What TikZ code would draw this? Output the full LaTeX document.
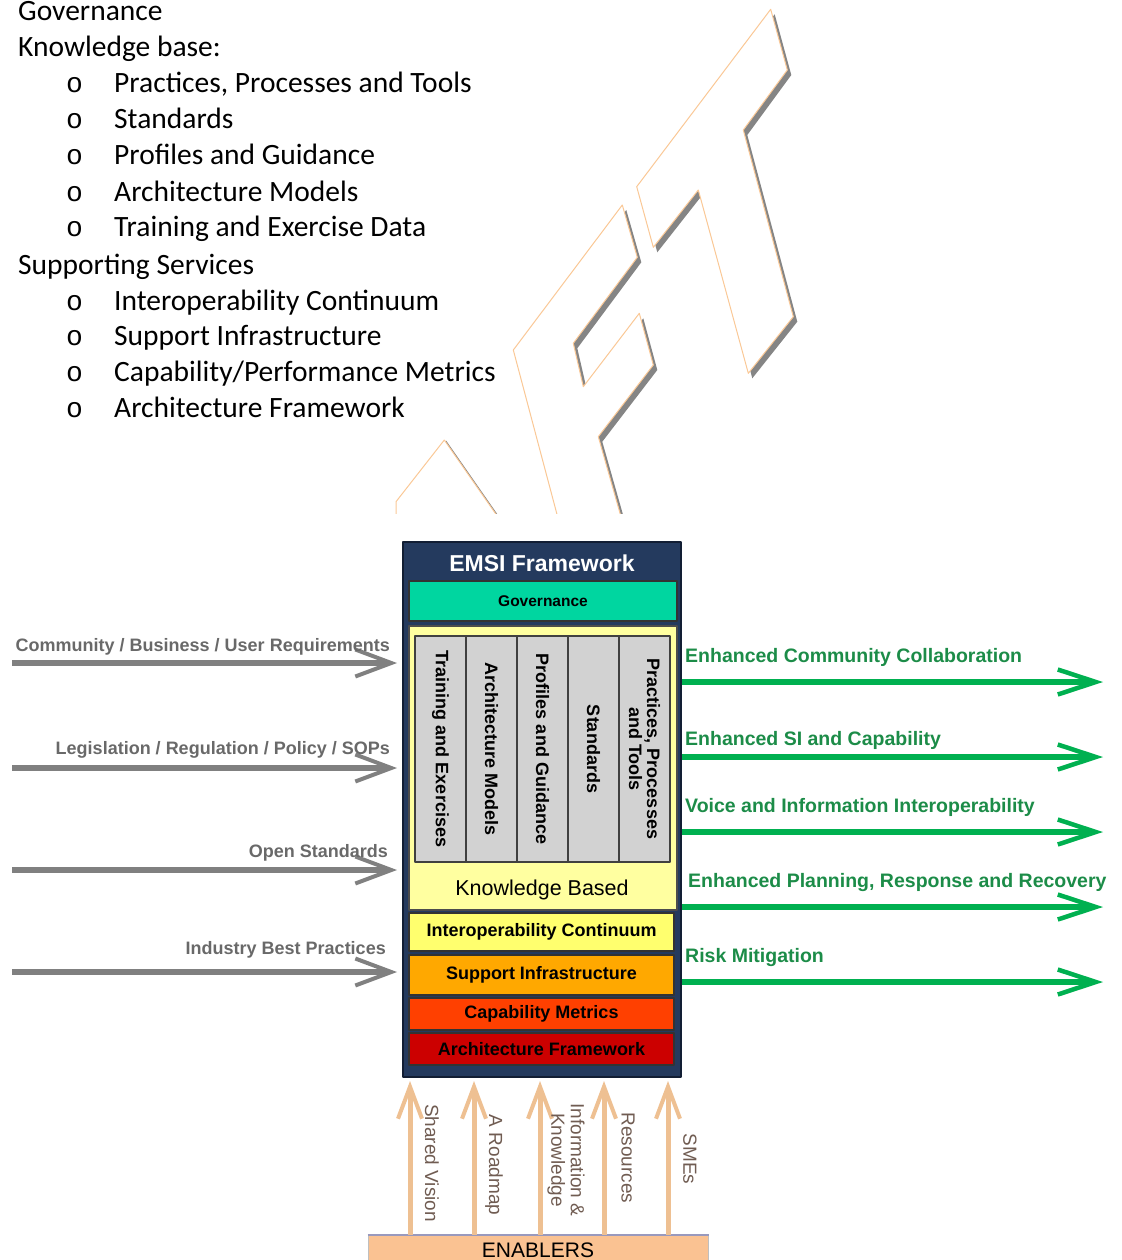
\documentclass[tikz,border=0pt]{standalone}
\usepackage{fontspec}
\setmainfont{Carlito}
\newfontfamily\arialfont{Liberation Sans}
\newfontfamily\bulletfont{Liberation Mono}
\usetikzlibrary{arrows.meta,positioning}

\definecolor{navy}{RGB}{36,58,94}
\definecolor{navyline}{RGB}{18,30,52}
\definecolor{govgreen}{RGB}{0,214,160}
\definecolor{kbyellow}{RGB}{255,255,160}
\definecolor{ioyellow}{RGB}{255,255,110}
\definecolor{colgray}{RGB}{210,210,210}
\definecolor{siorange}{RGB}{255,168,0}
\definecolor{cmred}{RGB}{255,64,0}
\definecolor{afred}{RGB}{204,0,0}
\definecolor{outgreen}{RGB}{0,176,80}
\definecolor{outtext}{RGB}{28,140,72}
\definecolor{ingray}{RGB}{128,128,128}
\definecolor{intext}{RGB}{105,105,105}
\definecolor{enabtan}{RGB}{238,192,146}
\definecolor{entext}{RGB}{112,92,82}
\definecolor{peach}{RGB}{250,194,146}
\definecolor{wmorange}{RGB}{250,200,150}

\tikzset{
  listtext/.style={anchor=base west, inner sep=0pt, font=\fontsize{29.5}{35}\selectfont},
  bullet/.style={anchor=base west, inner sep=0pt, font=\bulletfont\fontsize{28}{33}\selectfont},
  layer/.style={draw=black!80, line width=1.2pt, minimum width=265pt, inner sep=0pt,
    font=\arialfont\bfseries\fontsize{18}{20}\selectfont},
  column/.style={draw=black!75, line width=1.5pt, fill=colgray, minimum width=51pt,
    minimum height=226pt, inner sep=0pt},
  coltext/.style={rotate=-90, align=center, inner sep=0pt,
    font=\arialfont\bfseries\fontsize{18}{18}\selectfont},
  inarrow/.style={draw=ingray, line width=6pt,
    -{Straight Barb[length=36pt,width=27pt,line width=4pt]}},
  intext/.style={anchor=base east, inner sep=0pt, text=intext,
    font=\arialfont\bfseries\fontsize{18}{19}\selectfont},
  outarrow/.style={draw=outgreen, line width=6pt,
    -{Straight Barb[length=38pt,width=25pt,line width=4.5pt]}},
  outtext/.style={anchor=base west, inner sep=0pt, text=outtext,
    font=\arialfont\bfseries\fontsize{19.5}{20}\selectfont},
  enarrow/.style={draw=enabtan, line width=5pt,
    -{Straight Barb[length=32pt,width=24pt,line width=4pt]}},
  entext/.style={rotate=-90, align=center, inner sep=0pt, text=entext,
    font=\arialfont\fontsize{19}{19.5}\selectfont}
}

\newcommand\wmT{(770.7,9.3) -- (787.3,70) -- (743.3,130) -- (793.3,316.7) -- (748.3,373.3)
  -- (698.3,190) -- (653.3,247.3) -- (636.7,186.7) -- cycle}
\newcommand\wmF{(622.3,205) -- (637.3,257.3) -- (573.3,343.3) -- (583.3,386.7) -- (639.3,313.3)
  -- (653.3,365) -- (598.3,436.7) -- (627.6,540) -- (563.8,540) -- (513.3,350) -- cycle}

\begin{document}
\begin{tikzpicture}[x=1pt,y=-1pt,line join=round]
  \useasboundingbox (0,0) rectangle (1121,1260);
  \clip (0,0) rectangle (1121,1260);

  % list above the figure
  \node[listtext] (gov0) at (18,21) {Governance};
  \node[listtext] (kb0) at (18,57) {Knowledge base:};
  \node[listtext] at (114,93) {Practices, Processes and Tools};
  \node[listtext] at (114,129) {Standards};
  \node[listtext] at (114,165) {Profiles and Guidance};
  \node[listtext] at (114,201) {Architecture Models};
  \node[listtext] at (114,236) {Training and Exercise Data};
  \node[listtext] (ss0) at (18,274) {Supporting Services};
  \node[listtext] at (114,310) {Interoperability Continuum};
  \node[listtext] at (114,345) {Support Infrastructure};
  \node[listtext] at (114,381) {Capability/Performance Metrics};
  \node[listtext] at (114,417) {Architecture Framework};
  \foreach \y in {93,129,165,201,236,310,345,381,417} {
    \node[bullet] at (66,\y) {o};
  }

  % watermark
  \begin{scope}
    \clip (380,0) rectangle (830,513);
    \fill[black!48, shift={(4,5)}] \wmT;
    \filldraw[fill=white, draw=wmorange, line width=1pt] \wmT;
    \fill[black!48, shift={(4,5)}] \wmF;
    \filldraw[fill=white, draw=wmorange, line width=1pt] \wmF;
    \draw[black!48, line width=1pt, shift={(1.5,1)}] (444.3,440) -- (500,520);
    \draw[wmorange, line width=1pt] (396,520) -- (396,501.7) -- (444.3,440) -- (500,520);
  \end{scope}

  % framework
  \node[draw=navyline, fill=navy, line width=2pt, minimum width=278pt, minimum height=535pt]
    (frame) at (542,809.5) {};
  \node[text=white, font=\arialfont\bfseries\fontsize{23}{25}\selectfont] (title) at (542,563)
    {EMSI Framework};
  \node[layer, fill=govgreen, minimum width=268pt, minimum height=40pt,
    font=\arialfont\bfseries\fontsize{15.5}{16}\selectfont] (gov) at (543,601) {Governance};
  \node[draw=black!70, line width=1.2pt, fill=kbyellow, minimum width=268pt, minimum height=284pt]
    (know) at (543,768) {};
  \foreach \lbl [count=\i] in {Training and Exercises, Architecture Models,
      Profiles and Guidance, Standards, {Practices, Processes\\and Tools}} {
    \node[column] (col\i) at ({389.5+51*\i},749) {};
    \node[coltext] at (col\i) {\lbl};
  }
  \node[font=\arialfont\fontsize{21.5}{23}\selectfont] (kbtext) at (542,890) {Knowledge Based};
  \node[layer, fill=ioyellow, minimum height=38pt] (interop) at (541.5,932) {Interoperability Continuum};
  \node[layer, fill=siorange, minimum height=40pt] (support) at (541.5,975) {Support Infrastructure};
  \node[layer, fill=cmred, minimum height=32pt] (capmet) at (541.5,1014) {Capability Metrics};
  \node[layer, fill=afred, minimum height=32pt] (archfw) at (541.5,1049) {Architecture Framework};

  % inputs
  \coordinate (req) at (12,663);
  \coordinate (leg) at (12,768);
  \coordinate (open) at (12,870);
  \coordinate (best) at (12,972);
  \foreach \c in {req,leg,open,best} {
    \draw[inarrow, shorten >=5pt] (\c) -- (\c -| frame.west);
  }
  \node[intext] at (390,651) {Community / Business / User Requirements};
  \node[intext] at (390,754) {Legislation / Regulation / Policy / SOPs};
  \node[intext] at (388,857) {Open Standards};
  \node[intext] at (386,954) {Industry Best Practices};

  % outcomes
  \coordinate (ecc) at (1103,682);
  \coordinate (esi) at (1103,757);
  \coordinate (vii) at (1103,832);
  \coordinate (epr) at (1103,907);
  \coordinate (risk) at (1103,982);
  \foreach \c in {ecc,esi,vii,epr,risk} {
    \draw[outarrow] (frame.east |- \c) -- (\c);
  }
  \node[outtext] at (685,662) {Enhanced Community Collaboration};
  \node[outtext] at (685,745) {Enhanced SI and Capability};
  \node[outtext] at (685,812) {Voice and Information Interoperability};
  \node[outtext] at (688,887) {Enhanced Planning, Response and Recovery};
  \node[outtext] at (685,962) {Risk Mitigation};

  % enablers
  \node[draw=black!25, fill=peach, line width=1pt, minimum width=340pt, minimum height=30pt,
    inner sep=0pt, font=\arialfont\fontsize{21}{22}\selectfont] (enablers) at (538,1250) {ENABLERS};
  \draw[blue!35!black!40, line width=2pt] (enablers.north west) -- (enablers.north east);
  \foreach \x/\n in {410/sv,474/rm,540/ik,604/res,668/sme} {
    \coordinate (\n) at (\x,1200);
    \draw[enarrow, shorten >=3pt] (enablers.north -| \n) -- (frame.south -| \n);
  }
  \node[entext] at (432,1163) {Shared Vision};
  \node[entext] at (494,1165) {A Roadmap};
  \node[entext] at (566,1160) {Information \&\\Knowledge};
  \node[entext] at (628,1158) {Resources};
  \node[entext] at (690,1159) {SMEs};
\end{tikzpicture}
\end{document}
